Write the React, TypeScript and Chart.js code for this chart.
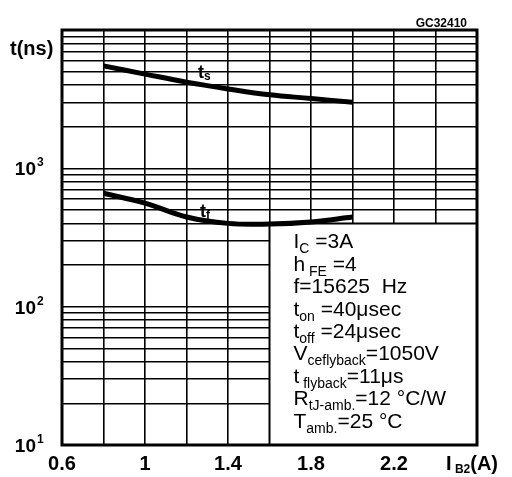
import React, { useEffect, useRef } from 'react';
import { Chart, registerables } from 'chart.js';

Chart.register(...registerables);

// ---- data ----
const IB2 = [0.8, 1.0, 1.2, 1.4, 1.6, 1.8, 2.0];
const TS = [5500, 4800, 4200, 3750, 3400, 3200, 3000];
const TF = [660, 560, 445, 400, 396, 410, 445];

// ---- axes ----
const X_MIN = 0.6;
const X_MAX = 2.6;
const X_GRID = [0.6, 0.8, 1.0, 1.2, 1.4, 1.6, 1.8, 2.0, 2.2, 2.4, 2.6];
const X_LABELS = [0.6, 1.0, 1.4, 1.8, 2.2];
const Y_MIN = 10;
const Y_MAX = 10000;
const Y_DECADES = [10, 100, 1000];
const Y_MULTIPLES = [1, 2, 3, 4, 5, 6, 7, 8, 9];
const Y_EXPONENTS = ['1', '2', '3'];

const Y_GRID: number[] = [];
Y_DECADES.forEach((d) => Y_MULTIPLES.forEach((m) => Y_GRID.push(d * m)));
Y_GRID.push(Y_MAX);

// ---- texts ----
const Y_TITLE = 't(ns)';
const CODE = 'GC32410';
const X_TITLE: [string, number][] = [['I', 0], [' B2', 1], ['(A)', 0]];
const TS_LABEL: [string, number][] = [['t', 0], ['s', 1]];
const TF_LABEL: [string, number][] = [['t', 0], ['f', 1]];
const INFO_LINES: [string, number][][] = [
  [['I', 0], ['C', 1], [' =3A', 0]],
  [['h', 0], [' FE', 1], [' =4', 0]],
  [['f=15625  Hz', 0]],
  [['t', 0], ['on', 1], [' =40μsec', 0]],
  [['t', 0], ['off', 1], [' =24μsec', 0]],
  [['V', 0], ['ceflyback', 1], ['=1050V', 0]],
  [['t', 0], [' flyback', 1], ['=11μs', 0]],
  [['R', 0], ['tJ-amb.', 1], ['=12 °C/W', 0]],
  [['T', 0], ['amb.', 1], ['=25 °C', 0]],
];

// info box extent (data space)
const BOX_X0 = 1.6;
const BOX_Y0 = 400;

const FONT = "'Liberation Sans', Arial, sans-serif";
const NARROW = "'Liberation Sans Narrow', 'Liberation Sans', Arial, sans-serif";

function drawRich(
  ctx: CanvasRenderingContext2D,
  x: number,
  y: number,
  segs: [string, number][],
  size: number,
  subSize: number,
  subDy: number,
  weight: string,
  family: string
) {
  let cx = x;
  segs.forEach(([t, sub]) => {
    ctx.font = `${weight} ${sub ? subSize : size}px ${family}`;
    ctx.fillText(t, cx, y + (sub ? subDy : 0));
    cx += ctx.measureText(t).width;
  });
}

const overlay = {
  id: 'overlay',
  beforeDatasetsDraw(chart: any) {
    const { ctx, chartArea, scales } = chart;
    const x = scales.x;
    const y = scales.y;
    const bx = x.getPixelForValue(BOX_X0);
    const by = y.getPixelForValue(BOX_Y0);
    ctx.save();
    ctx.fillStyle = '#fff';
    ctx.fillRect(bx, by, chartArea.right - bx, chartArea.bottom - by);
    ctx.strokeStyle = '#000';
    ctx.lineWidth = 2;
    ctx.beginPath();
    ctx.moveTo(bx, chartArea.bottom);
    ctx.lineTo(bx, by);
    ctx.lineTo(chartArea.right, by);
    ctx.stroke();

    ctx.fillStyle = '#000';
    ctx.textAlign = 'left';
    ctx.textBaseline = 'alphabetic';
    const tx = bx + 24;
    const ty0 = by + 25;
    INFO_LINES.forEach((line, i) => {
      drawRich(ctx, tx, ty0 + i * 22.4, line, 21, 14, 5, 'normal', FONT);
    });
    ctx.restore();
  },
  afterDraw(chart: any) {
    const { ctx, chartArea, scales } = chart;
    const x = scales.x;
    const y = scales.y;
    ctx.save();
    ctx.strokeStyle = '#000';
    ctx.lineWidth = 3;
    ctx.strokeRect(chartArea.left, chartArea.top, chartArea.right - chartArea.left, chartArea.bottom - chartArea.top);

    ctx.fillStyle = '#000';
    ctx.textAlign = 'left';
    ctx.textBaseline = 'middle';
    ctx.font = `bold 20px ${FONT}`;
    ctx.fillText(Y_TITLE, 10, 49);

    ctx.textBaseline = 'alphabetic';
    // decade labels 10^n
    Y_DECADES.forEach((d, i) => {
      const gy = y.getPixelForValue(d);
      ctx.textAlign = 'right';
      ctx.font = `bold 19px ${NARROW}`;
      ctx.fillText('10', chartArea.left - 26, gy + 7);
      ctx.textAlign = 'left';
      ctx.font = `bold 12px ${NARROW}`;
      ctx.fillText(Y_EXPONENTS[i], chartArea.left - 25, gy - 2);
    });

    ctx.textAlign = 'right';
    ctx.font = `bold 12px ${FONT}`;
    ctx.fillText(CODE, chartArea.right - 10, 27);

    ctx.textAlign = 'left';
    drawRich(ctx, x.getPixelForValue(X_MAX) - 31, chartArea.bottom + 25, X_TITLE, 20, 12, 3, 'bold', FONT);

    drawRich(ctx, x.getPixelForValue(1.255), y.getPixelForValue(4500), TS_LABEL, 18, 12, 2, 'bold', FONT);
    drawRich(ctx, x.getPixelForValue(1.265), y.getPixelForValue(446), TF_LABEL, 18, 12, 2, 'bold', FONT);
    ctx.restore();
  },
};

export default function App() {
  const ref = useRef<HTMLCanvasElement | null>(null);

  useEffect(() => {
    if (!ref.current) return;
    const chart = new Chart(ref.current, {
      type: 'line',
      data: {
        datasets: [
          {
            label: 'ts',
            data: IB2.map((v, i) => ({ x: v, y: TS[i] })),
            borderColor: '#000',
            borderWidth: 5,
            pointRadius: 0,
            tension: 0.4,
            fill: false,
          },
          {
            label: 'tf',
            data: IB2.map((v, i) => ({ x: v, y: TF[i] })),
            borderColor: '#000',
            borderWidth: 5,
            pointRadius: 0,
            tension: 0.4,
            fill: false,
          },
        ],
      },
      options: {
        responsive: false,
        animation: false,
        events: [],
        layout: { padding: { top: 30, right: 35, bottom: 0, left: 0 } },
        plugins: {
          legend: { display: false },
          tooltip: { enabled: false },
        },
        scales: {
          x: {
            type: 'linear',
            min: X_MIN,
            max: X_MAX,
            afterBuildTicks: (s: any) => {
              s.ticks = X_GRID.map((v) => ({ value: v }));
            },
            afterFit: (s: any) => {
              s.height = 32;
            },
            grid: { color: '#000', lineWidth: 1.6, drawTicks: false },
            border: { display: false },
            ticks: {
              autoSkip: false,
              maxRotation: 0,
              padding: 7,
              color: '#000',
              font: { family: FONT, size: 20, weight: 'bold' },
              callback: (v: any) => {
                const n = Number(v);
                return X_LABELS.some((l) => Math.abs(l - n) < 1e-6) ? String(Math.round(n * 10) / 10) : '';
              },
            },
          },
          y: {
            type: 'logarithmic',
            min: Y_MIN,
            max: Y_MAX,
            afterBuildTicks: (s: any) => {
              s.ticks = Y_GRID.map((v) => ({ value: v }));
            },
            afterFit: (s: any) => {
              s.width = 62;
            },
            grid: { color: '#000', lineWidth: 1.6, drawTicks: false },
            border: { display: false },
            ticks: { display: false },
          },
        },
      },
      plugins: [overlay],
    });
    return () => chart.destroy();
  }, []);

  return (
    <div style={{ position: 'absolute', left: 0, top: 0, width: 512, height: 477 }}>
      <canvas ref={ref} width={512} height={477} style={{ display: 'block' }} />
    </div>
  );
}
